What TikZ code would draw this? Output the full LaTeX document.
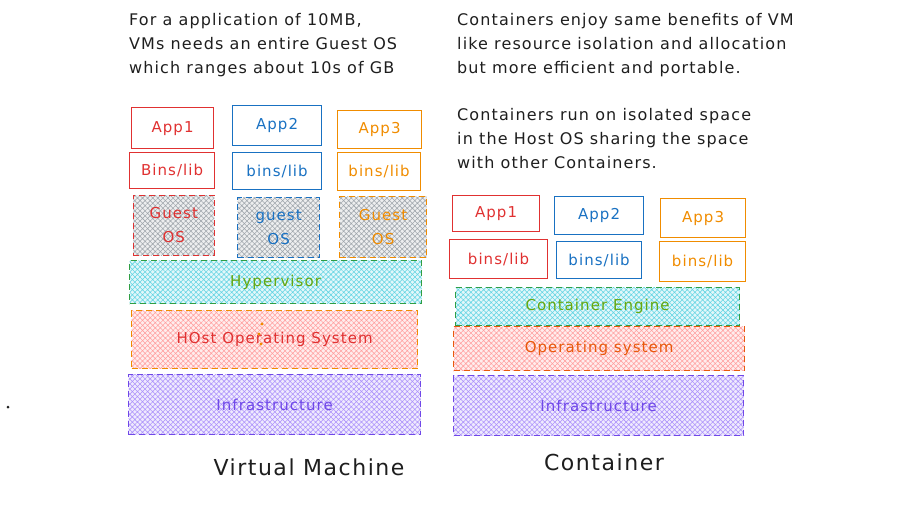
\documentclass[tikz,border=0pt]{standalone}
\usepackage{fontspec}
\setmainfont{DejaVu Sans}[LetterSpace=7]
\usetikzlibrary{patterns.meta}
\definecolor{cred}{HTML}{E03131}
\definecolor{cblue}{HTML}{1971C2}
\definecolor{corange}{HTML}{F08C00}
\definecolor{corangeT}{HTML}{E8590C}
\definecolor{cgreen}{HTML}{2F9E44}
\definecolor{clime}{HTML}{66A80F}
\definecolor{ccyan}{HTML}{3BC9DB}
\definecolor{cpink}{HTML}{FF8787}
\definecolor{cpurple}{HTML}{7048E8}
\definecolor{cviolet}{HTML}{9775FA}
\definecolor{cgray}{HTML}{868E96}
\definecolor{ctext}{HTML}{1E1E1E}
\tikzset{
  every node/.style={font=\fontsize{15}{24}\selectfont},
  solidbox/.style={draw=#1, text=#1, line width=1.2pt, inner sep=0pt, anchor=north west},
  hatchbox/.style n args={3}{draw=#1, text=#3, line width=1.2pt, dash pattern=on 6pt off 4pt,
     inner sep=0pt, anchor=north west,
     preaction={fill=#2!15},
     pattern={Hatch[angle=45,distance=3.6pt,line width=0.55pt]}, pattern color=#2!80},
  note/.style={anchor=north west, align=left, text=ctext, inner sep=0pt, font=\fontsize{16}{24}\selectfont},
  title/.style={text=ctext, inner sep=0pt, font=\fontsize{22}{24}\selectfont},
}
\begin{document}
\begin{tikzpicture}[x=1pt,y=-1pt]
\useasboundingbox (0,0) rectangle (900,529);
% top notes
\node[note] (n1) at (129,13) {For a application of 10MB,\\VMs needs an entire Guest OS\\which ranges about 10s of GB};
\node[note] (n2) at (457,13) {Containers enjoy same benefits of VM\\like resource isolation and allocation\\but more efficient and portable.};
\node[note] (n3) at (457,108) {Containers run on isolated space\\in the Host OS sharing the space\\with other Containers.};
% VM side
\node[solidbox=cred, minimum width=82, minimum height=41] (va1) at (131,107) {App1};
\node[solidbox=cblue, minimum width=89, minimum height=40] (va2) at (232,105) {App2};
\node[solidbox=corange, minimum width=84, minimum height=38] (va3) at (337,110) {App3};
\node[solidbox=cred, minimum width=85, minimum height=36] (vb1) at (129,152) {Bins/lib};
\node[solidbox=cblue, minimum width=89, minimum height=37] (vb2) at (232,152) {bins/lib};
\node[solidbox=corange, minimum width=83, minimum height=38] (vb3) at (337,152) {bins/lib};
\node[hatchbox={cred}{cgray}{cred}, minimum width=81, minimum height=60, align=center] (vg1) at (133,195) {Guest\\OS};
\node[hatchbox={cblue}{cgray}{cblue}, minimum width=82, minimum height=60, align=center] (vg2) at (237,197) {guest\\OS};
\node[hatchbox={corange}{cgray}{corange}, minimum width=87, minimum height=61, align=center] (vg3) at (339,196) {Guest\\OS};
\node[hatchbox={cgreen}{ccyan}{clime}, minimum width=292, minimum height=43] (hyp) at (129,260) {Hypervisor};
\node[hatchbox={corange}{cpink}{cred}, minimum width=286, minimum height=58] (hos) at (131,310) {HOst Operating System};
\node[hatchbox={cpurple}{cviolet}{cpurple}, minimum width=292, minimum height=60] (vinf) at (128,374) {Infrastructure};
\fill[corange] (262,324) circle (1.6) (259,334) circle (1.6) (261,344) circle (1.6);
% Container side
\node[solidbox=cred, minimum width=87, minimum height=36] (ca1) at (452,195) {App1};
\node[solidbox=cblue, minimum width=89, minimum height=38] (ca2) at (554,196) {App2};
\node[solidbox=corange, minimum width=85, minimum height=39] (ca3) at (660,198) {App3};
\node[solidbox=cred, minimum width=98, minimum height=39] (cb1) at (449,239) {bins/lib};
\node[solidbox=cblue, minimum width=85, minimum height=37] (cb2) at (556,241) {bins/lib};
\node[solidbox=corange, minimum width=86, minimum height=40] (cb3) at (659,241) {bins/lib};
\node[hatchbox={cgreen}{ccyan}{clime}, minimum width=284, minimum height=38] (eng) at (455,287) {Container Engine};
\node[hatchbox={corangeT}{cpink}{corangeT}, minimum width=291, minimum height=44] (cos) at (453,326) {Operating system};
\node[hatchbox={cpurple}{cviolet}{cpurple}, minimum width=290, minimum height=60] (cinf) at (453,375) {Infrastructure};
% titles
\node[title] (tvm) at (309,467) {Virtual Machine};
\node[title] (tct) at (604,462) {Container};
\fill[ctext] (8,407) circle (1.5);
\end{tikzpicture}
\end{document}
